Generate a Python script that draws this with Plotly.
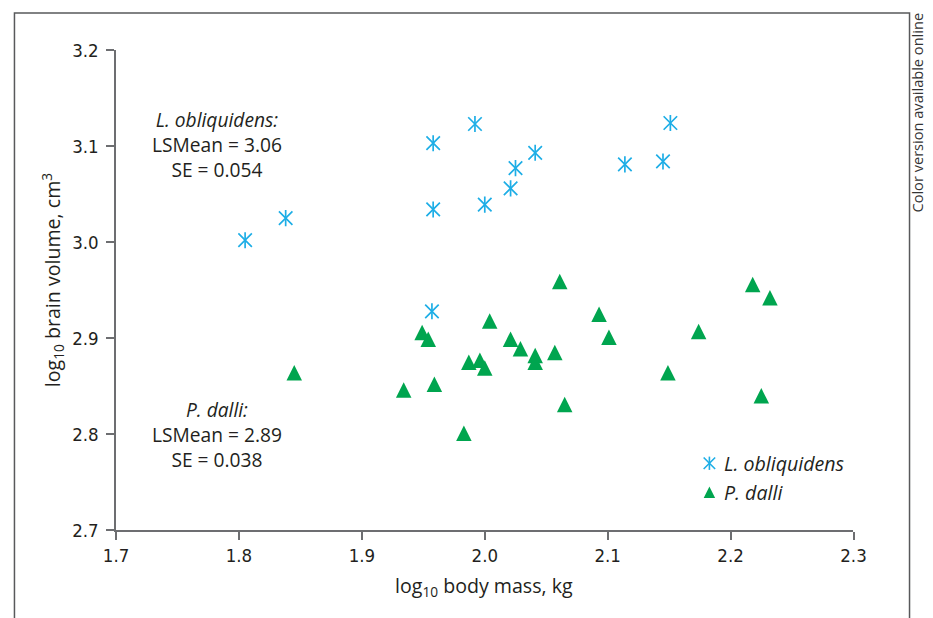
import plotly.graph_objects as go

# ---------------- data ----------------
lo_name = "L. obliquidens"
lo_mass = [1.805, 1.838, 1.958, 1.958, 1.957, 1.992, 2.000, 2.021, 2.025, 2.041, 2.114, 2.145, 2.151]
lo_brain = [3.002, 3.025, 3.103, 3.034, 2.928, 3.123, 3.039, 3.056, 3.077, 3.093, 3.081, 3.084, 3.124]

pd_name = "P. dalli"
pd_mass = [1.845, 1.934, 1.949, 1.954, 1.959, 1.983, 1.987, 1.996, 2.000, 2.004, 2.021, 2.029,
           2.041, 2.041, 2.057, 2.061, 2.065, 2.093, 2.101, 2.149, 2.174, 2.218, 2.232, 2.225]
pd_brain = [2.864, 2.846, 2.906, 2.899, 2.852, 2.801, 2.875, 2.877, 2.869, 2.918, 2.899, 2.889,
            2.882, 2.875, 2.885, 2.959, 2.831, 2.925, 2.901, 2.864, 2.907, 2.956, 2.942, 2.840]

x_ticks = [1.7, 1.8, 1.9, 2.0, 2.1, 2.2, 2.3]
x_tick_labels = ["1.7", "1.8", "1.9", "2.0", "2.1", "2.2", "2.3"]
y_ticks = [2.7, 2.8, 2.9, 3.0, 3.1, 3.2]
y_tick_labels = ["2.7", "2.8", "2.9", "3.0", "3.1", "3.2"]

lo_stats = ("3.06", "0.054")
pd_stats = ("2.89", "0.038")

# ---------------- style / layout ----------------
# observed mapping of figure pixels onto the photographed page
AX, AY = 12.0, 11.0
SX, SY = 0.972, 0.966
W, H = 948, 628
BLUE = "#1EAEE6"
GREEN = "#00A54F"
TXT = "#231F20"
AXC = "#6D6E71"
FONT = "Open Sans, Noto Sans, sans-serif"
TICKFONT = "Liberation Sans Narrow, DejaVu Sans Condensed, Open Sans, sans-serif"
FS = 19.6


def px_x(p):
    return ((p - AX) / SX) / W


def px_y(p):
    return 1 - ((p - AY) / SY) / H


fig = go.Figure()

# asterisk = X + vertical bar
fig.add_trace(go.Scatter(
    x=lo_mass, y=lo_brain, mode="markers", name=lo_name, showlegend=False,
    marker=dict(symbol="x-thin-open", size=13.5, color=BLUE, line=dict(color=BLUE, width=1.7)),
))
fig.add_trace(go.Scatter(
    x=lo_mass, y=lo_brain, mode="markers", showlegend=False, hoverinfo="skip",
    marker=dict(symbol="line-ns-open", size=11.5, color=BLUE, line=dict(color=BLUE, width=1.7)),
))
TRI = 15.5
fig.add_trace(go.Scatter(
    x=pd_mass, y=pd_brain, mode="markers", name=pd_name, showlegend=False,
    marker=dict(symbol="arrow-down", size=TRI, angle=180, standoff=TRI / 2,
                color=GREEN, line=dict(width=0)),
))

# manual legend keys on a page-pixel overlay axis
LEG_X = 708
LEG_Y = [463, 492]
fig.add_trace(go.Scatter(
    x=[LEG_X], y=[LEG_Y[0]], xaxis="x2", yaxis="y2", mode="markers", showlegend=False,
    hoverinfo="skip",
    marker=dict(symbol="x-thin-open", size=11.5, color=BLUE, line=dict(color=BLUE, width=1.6)),
))
fig.add_trace(go.Scatter(
    x=[LEG_X], y=[LEG_Y[0]], xaxis="x2", yaxis="y2", mode="markers", showlegend=False,
    hoverinfo="skip",
    marker=dict(symbol="line-ns-open", size=9.5, color=BLUE, line=dict(color=BLUE, width=1.6)),
))
fig.add_trace(go.Scatter(
    x=[LEG_X], y=[LEG_Y[1]], xaxis="x2", yaxis="y2", mode="markers", showlegend=False,
    hoverinfo="skip",
    marker=dict(symbol="arrow-down", size=11.5, angle=180, standoff=5.75,
                color=GREEN, line=dict(width=0)),
))


def note(x, y, text, size=FS, **kw):
    d = dict(x=px_x(x), y=px_y(y), xref="paper", yref="paper", showarrow=False, text=text,
             font=dict(family=FONT, size=size, color=TXT), xanchor="center", yanchor="middle",
             align="center")
    d.update(kw)
    return d


annotations = [
    note(216, 144, f"<i>{lo_name}:</i><br>LSMean = {lo_stats[0]}<br>SE = {lo_stats[1]}", size=19.2),
    note(216, 434, f"<i>{pd_name}:</i><br>LSMean = {pd_stats[0]}<br>SE = {pd_stats[1]}", size=19.2),
    note(721, LEG_Y[0], f"<i>{lo_name}</i>", xanchor="left"),
    note(721, LEG_Y[1], f"<i>{pd_name}</i>", xanchor="left"),
    note(483, 586, "log<sub>10</sub> body mass, kg"),
    note(51, 280, "log<sub>10</sub> brain volume, cm<sup>3</sup>", textangle=-90),
    dict(x=px_x(915), y=1, xref="paper", yref="paper", showarrow=False,
         text="Color version available online", textangle=-90,
         font=dict(family=FONT, size=14.6, color="#333333"), xanchor="center", yanchor="top"),
]

bx0 = max(px_x(8), 1.5 / W)
bx1 = px_x(908)
by1 = min(px_y(7), 1 - 2.0 / H)
shapes = [
    dict(type="path", xref="paper", yref="paper",
         path=f"M {bx0} -0.05 L {bx0} {by1} L {bx1} {by1} L {bx1} -0.05",
         line=dict(color="#58595B", width=1.5)),
]

axis_common = dict(
    showgrid=False, zeroline=False, showline=True, linecolor=AXC, linewidth=1.5,
    ticks="outside", ticklen=8, tickwidth=1.5, tickcolor=AXC,
    tickfont=dict(family=TICKFONT, size=18.5, color=TXT),
)

fig.update_layout(
    width=W, height=H, margin=dict(l=0, r=0, t=0, b=0),
    paper_bgcolor="white", plot_bgcolor="rgba(0,0,0,0)",
    showlegend=False,
    xaxis=dict(domain=[px_x(115), px_x(852)], range=[1.7, 2.3],
               tickvals=x_ticks, ticktext=x_tick_labels, anchor="y",
               ticklabelstandoff=0, **axis_common),
    yaxis=dict(domain=[px_y(530), px_y(50)], range=[2.7, 3.2],
               tickvals=y_ticks, ticktext=y_tick_labels, anchor="x",
               ticklabelstandoff=4, **axis_common),
    xaxis2=dict(domain=[px_x(AX), px_x(AX + W * SX)], range=[AX, AX + W * SX],
                visible=False, anchor="y2"),
    yaxis2=dict(domain=[px_y(AY + H * SY), px_y(AY)], range=[AY + H * SY, AY],
                visible=False, anchor="x2"),
    annotations=annotations,
    shapes=shapes,
)

fig.write_html("out.html")
